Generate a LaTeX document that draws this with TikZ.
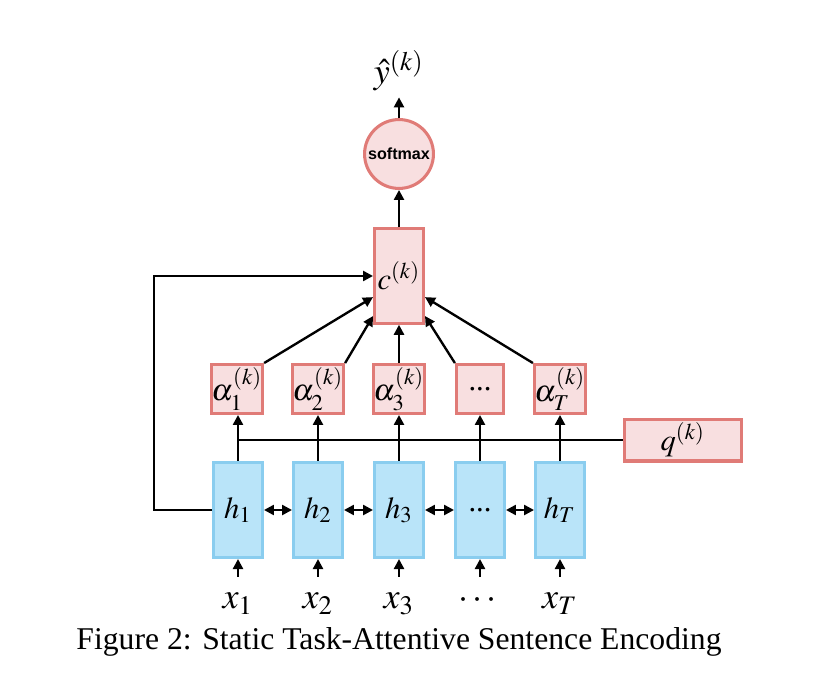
\documentclass[tikz,border=0pt]{standalone}
\usepackage{amsmath}
\usepackage{mathptmx}
\usepackage[no-math]{fontspec}
\setmainfont{Liberation Serif}
\setsansfont{Liberation Sans}
\usepackage{tikz}
\usepackage{xcolor}
\usetikzlibrary{arrows.meta}
\definecolor{hidfill}{HTML}{B9E4F9}
\definecolor{hiddraw}{HTML}{8ACDEF}
\definecolor{attfill}{HTML}{F8DFE0}
\definecolor{attdraw}{HTML}{E07B77}
\tikzset{
    hidden-box/.style = {draw=hiddraw, fill=hidfill, line width=1.1pt, rectangle, minimum width=17.6pt, minimum height=34.2pt, inner sep=0pt, font=\fontsize{11}{13}\selectfont},
    attn-box/.style = {draw=attdraw, fill=attfill, line width=1.1pt, rectangle, minimum width=17pt, minimum height=17.6pt, inner sep=0pt, font=\fontsize{11}{13}\selectfont},
    input-label/.style = {inner sep=0pt, text height=6.5pt, text depth=2pt, anchor=north, font=\fontsize{13}{15}\selectfont},
    arr/.style = {line width=0.85pt, -{Triangle[length=3.6pt, width=3.6pt]}},
    biarr/.style = {line width=0.85pt, {Triangle[length=3.6pt, width=3.6pt]}-{Triangle[length=3.6pt, width=3.6pt]}},
    link/.style = {line width=0.85pt},
}

\begin{document}
\begin{tikzpicture}[x=0.36pt, y=-0.36pt]
\useasboundingbox (0,0) rectangle (830,682);
% hidden states
\node[hidden-box] (h1) at (238,510) {$h_1$};
\node[hidden-box] (h2) at (318,510) {$h_2$};
\node[hidden-box] (h3) at (399,510) {$h_3$};
\node[hidden-box] (h4) at (480,510) {...};
\node[hidden-box] (hT) at (560,510) {$h_T$};
% inputs
\node[input-label] (x1) at (238,590) {$x_1$};
\node[input-label] (x2) at (318,590) {$x_2$};
\node[input-label] (x3) at (399,590) {$x_3$};
\node[input-label] (x4) at (480,590) {$\cdots$};
\node[input-label] (xT) at (560,590) {$x_T$};
% attention weights
\node[attn-box] (a1) at (237,389) {$\alpha_1^{(k)}$};
\node[attn-box] (a2) at (318,389) {$\alpha_2^{(k)}$};
\node[attn-box] (a3) at (399,389) {$\alpha_3^{(k)}$};
\node[attn-box] (a4) at (480,389) {...};
\node[attn-box] (aT) at (560,389) {$\alpha_T^{(k)}$};
\node[attn-box, minimum width=42pt, minimum height=15.1pt] (q) at (683,440) {$q^{(k)}$};
\node[attn-box, minimum height=34pt, minimum width=17.6pt] (c) at (399,276) {$c^{(k)}$};
\node[attn-box, circle, minimum size=24.8pt, font=\sffamily\bfseries\fontsize{5.8}{7}\selectfont] (sm) at (399,154) {softmax};
\node[inner sep=0pt, font=\fontsize{13}{15}\selectfont] (y) at (399,71) {$\hat{y}^{(k)}$};

\foreach \i in {1,2,3,4,T}
    \draw[arr, shorten <=4.7pt] (x\i.north) -- (h\i.south);
\draw[biarr] (h1) -- (h2);
\draw[biarr] (h2) -- (h3);
\draw[biarr] (h3) -- (h4);
\draw[biarr] (h4) -- (hT);

% query joins every step
\draw[link] (h1.north |- q.west) -- (q.west);
\foreach \i in {1,2,3,4,T}
    \draw[arr] (h\i.north) -- (h\i.north |- a\i.south);

% attention into context
\draw[arr] (a1.north east) -- ([yshift=-7.6pt]c.west);
\draw[arr] (a2.north east) -- ([yshift=-14.4pt]c.west);
\draw[arr] (a3.north) -- (c.south);
\draw[arr] (a4.north west) -- ([yshift=-14.4pt]c.east);
\draw[arr] (aT.north west) -- ([yshift=-7.6pt]c.east);
\draw[arr] (h1.west) -- ++(-58,0) |- (c.west);

\draw[arr] (c.north) -- (sm.south);
\draw[arr, shorten >=2pt] (sm.north) -- (y.south);

\node[font=\fontsize{11.4}{13}\selectfont] (caption) at (399,642) {Figure 2: Static Task-Attentive Sentence Encoding};
\end{tikzpicture}
\end{document}
